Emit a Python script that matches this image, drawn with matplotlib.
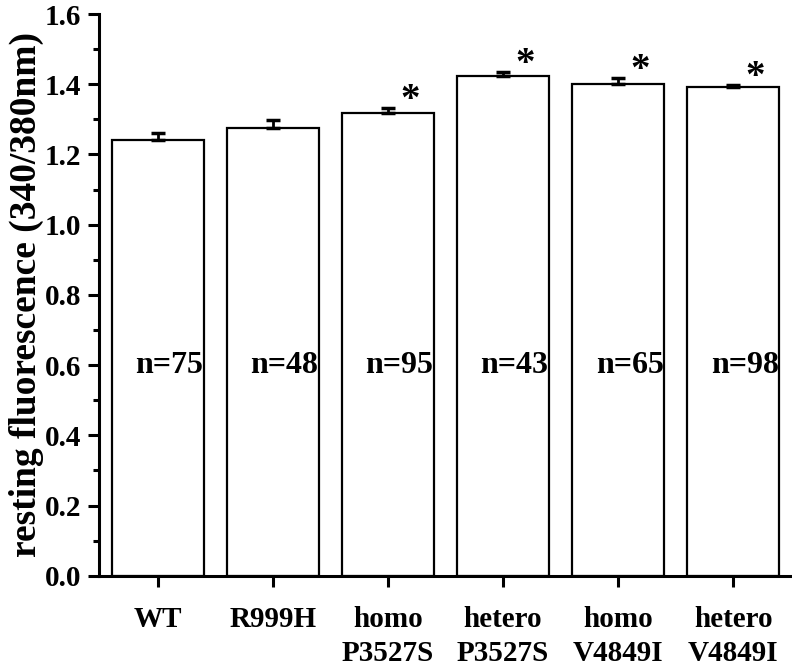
import matplotlib
matplotlib.use("Agg")
import matplotlib.pyplot as plt
from matplotlib.ticker import MultipleLocator

plt.rcParams['font.family'] = 'Liberation Serif'
plt.rcParams['font.weight'] = 'bold'

groups = ["WT", "R999H", "homo\nP3527S", "hetero\nP3527S", "homo\nV4849I", "hetero\nV4849I"]
values = [1.242, 1.276, 1.318, 1.424, 1.402, 1.391]
errors = [0.018, 0.022, 0.013, 0.011, 0.015, 0.006]
counts = ["n=75", "n=48", "n=95", "n=43", "n=65", "n=98"]
significant = [False, False, True, True, True, True]

x = list(range(1, len(groups) + 1))

fig = plt.figure(figsize=(7.92, 6.68), dpi=100)
ax = fig.add_axes([0.125, 0.138, 0.875, 0.841])

ax.bar(x, values, width=0.8, color='white', edgecolor='black', linewidth=1.6, zorder=2)
ax.errorbar(x, values, yerr=[[0] * len(errors), errors], fmt='none', ecolor='black',
            elinewidth=2, capsize=5, capthick=2.5, zorder=3)

for xi, v, e, n, s in zip(x, values, errors, counts, significant):
    ax.text(xi + 0.1, 0.6, n, ha='center', va='center', fontsize=23, fontweight='bold')
    if s:
        ax.text(xi + 0.19, v + e + 0.022, "*", ha='center', va='center', fontsize=28, fontweight='bold')

ax.set_xlim(0.49, 6.51)
ax.set_ylim(0, 1.6)
ax.set_xticks(x)
ax.set_xticklabels(groups, fontsize=21, fontweight='bold', linespacing=1.3)
ax.yaxis.set_major_locator(MultipleLocator(0.2))
ax.yaxis.set_minor_locator(MultipleLocator(0.1))
ax.set_yticklabels([f"{t:.1f}" for t in ax.get_yticks()], fontsize=21, fontweight='bold')
ax.set_ylabel("resting fluorescence (340/380nm)", fontsize=27, fontweight='bold', labelpad=0)

ax.spines['top'].set_visible(False)
ax.spines['right'].set_visible(False)
ax.spines['left'].set_linewidth(2.2)
ax.spines['bottom'].set_linewidth(2.2)
ax.tick_params(axis='both', which='major', length=8, width=2.2, pad=5)
ax.tick_params(axis='y', which='minor', length=4, width=2.2)
ax.tick_params(axis='x', pad=14)

fig.savefig("out.png", dpi=100)
